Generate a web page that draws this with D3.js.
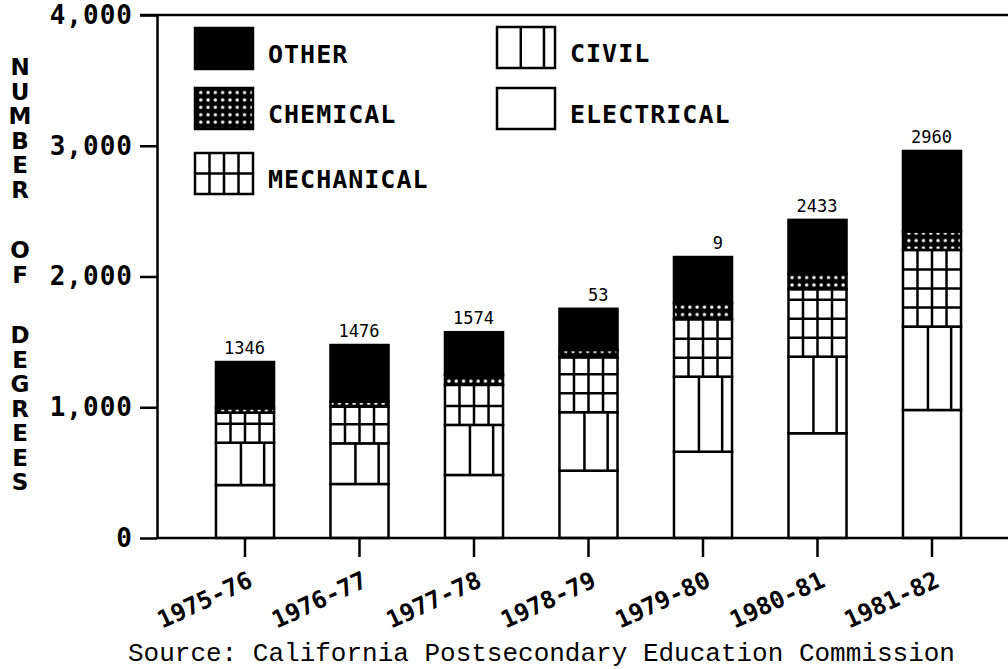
<!DOCTYPE html>
<meta charset="utf-8">
<script src="https://d3js.org/d3.v7.min.js"></script>
<style>
  body { margin: 0; background: #fff; }
</style>
<svg id="chart" width="1008" height="669"></svg>
<script>

  // data
  var years = ["1975-76", "1976-77", "1977-78", "1978-79", "1979-80", "1980-81", "1981-82"]
  var electrical = [405, 413, 482, 515, 660, 801, 979]
  var civil      = [324, 311, 383, 447, 574, 586, 638]
  var mechanical = [230, 281, 306, 420, 439, 516, 586]
  var chemical   = [34, 38, 76, 56, 123, 117, 141]
  var other      = [353, 433, 327, 315, 353, 413, 616]
  // labels over the bars, as far as they are readable in the print
  var barLabels  = ["1346", "1476", "1574", "53", "9", "2433", "2960"]
  var yTicks = [0, 1000, 2000, 3000, 4000]
  var keys = ["electrical", "civil", "mechanical", "chemical", "other"]

  var svg = d3.select("#chart")
  var mono = "'DejaVu Sans Mono', monospace"

  var table = years.map(function(yr, i) {
    return {year: yr, electrical: electrical[i], civil: civil[i],
            mechanical: mechanical[i], chemical: chemical[i], other: other[i]}
  })
  var series = d3.stack().keys(keys)(table)

  var y = d3.scaleLinear().domain([0, 4000]).range([538, 15])
  var x = d3.scaleBand().domain(years).range([187.75, 989.25])
      .paddingInner(0.493).paddingOuter(0.2465)

  // dotted fill for chemical
  var pat = svg.append("defs").append("pattern")
      .attr("id", "dots").attr("patternUnits", "userSpaceOnUse")
      .attr("width", 7.3).attr("height", 7.4)
  pat.append("rect").attr("width", 7.3).attr("height", 7.4).attr("fill", "#000")
  pat.append("circle").attr("cx", 3.65).attr("cy", 3.7).attr("r", 1.7).attr("fill", "#fff")

  var fills = {electrical: "#fff", civil: "#fff", mechanical: "#fff", chemical: "url(#dots)", other: "#000"}

  // stacked bars
  var layers = svg.append("g").selectAll("g")
    .data(series)
    .enter().append("g")
      .attr("class", function(d) { return d.key })

  layers.selectAll("rect")
    .data(function(d) { return d })
    .enter().append("rect")
      .attr("x", function(d) { return x(d.data.year) })
      .attr("y", function(d) { return y(d[1]) })
      .attr("width", x.bandwidth())
      .attr("height", function(d) { return y(d[0]) - y(d[1]) })
      .attr("fill", function(d) { return fills[this.parentNode.__data__.key] })
      .attr("stroke", "#000")
      .attr("stroke-width", 2.5)

  // civil: two vertical strokes
  var civilLayer = series[1]
  var lines = svg.append("g").attr("stroke", "#000").attr("stroke-width", 2.5)
  civilLayer.forEach(function(d) {
    var x0 = x(d.data.year), w = x.bandwidth()
    ;[0.43, 0.83].forEach(function(f) {
      lines.append("line")
        .attr("x1", x0 + w * f).attr("x2", x0 + w * f)
        .attr("y1", y(d[0])).attr("y2", y(d[1]))
    })
  })

  // mechanical: grid of 4 columns, rows of ~19px from the bottom
  var mechLayer = series[2]
  mechLayer.forEach(function(d) {
    var x0 = x(d.data.year), w = x.bandwidth()
    var yb = y(d[0]), yt = y(d[1])
    for (var k = 1; k < 4; k++) {
      lines.append("line")
        .attr("x1", x0 + w * k / 4).attr("x2", x0 + w * k / 4)
        .attr("y1", yb).attr("y2", yt)
    }
    for (var r = yb - 19; r > yt + 3; r -= 19) {
      lines.append("line")
        .attr("x1", x0).attr("x2", x0 + w)
        .attr("y1", r).attr("y2", r)
    }
  })

  // totals over the bars (right aligned as 4-digit numbers)
  svg.append("g").selectAll("text")
    .data(series[4])
    .enter().append("text")
      .attr("x", function(d) { return x(d.data.year) + x.bandwidth() / 2 + 20 })
      .attr("y", function(d) { return y(d[1]) - 8 })
      .attr("text-anchor", "end")
      .style("font-family", mono)
      .style("font-size", "17px")
      .text(function(d, i) { return barLabels[i] })

  // y axis
  var yAxis = svg.append("g")
      .attr("transform", "translate(157,0)")
      .call(d3.axisLeft(y).tickValues(yTicks).tickSize(17).tickSizeOuter(0)
        .tickFormat(d3.format(",")))
  yAxis.select(".domain").attr("stroke-width", 2.5)
  yAxis.selectAll(".tick line").attr("stroke-width", 2.5)
  yAxis.selectAll(".tick text")
      .attr("x", -24)
      .style("font-family", mono)
      .style("font-weight", "bold")
      .style("font-size", "26px")
      .style("letter-spacing", "1px")

  // top frame line
  svg.append("line")
      .attr("x1", 140).attr("x2", 1008).attr("y1", y(4000)).attr("y2", y(4000))
      .attr("stroke", "#000").attr("stroke-width", 2.5)

  // x axis
  var xAxis = svg.append("g")
      .attr("transform", "translate(0,538)")
      .call(d3.axisBottom(x).tickSize(19).tickSizeOuter(0))
  xAxis.select(".domain").remove()
  xAxis.selectAll(".tick line").attr("stroke-width", 2.5)
  xAxis.selectAll(".tick text")
      .attr("text-anchor", "end")
      .attr("transform", "translate(9,48) rotate(-25)")
      .attr("y", 0).attr("dy", 0)
      .style("font-family", mono)
      .style("font-weight", "bold")
      .style("font-size", "24px")
  svg.append("line")
      .attr("x1", 157).attr("x2", 1008).attr("y1", 538).attr("y2", 538)
      .attr("stroke", "#000").attr("stroke-width", 2.5)

  // y title, one letter per line
  var title = "NUMBER OF DEGREES"
  var ty = 67
  var tg = svg.append("g")
  title.split("").forEach(function(c) {
    if (c == " ") { ty += 36; return }
    tg.append("text")
      .attr("x", 20).attr("y", ty + 8)
      .attr("text-anchor", "middle")
      .style("font-family", "'DejaVu Sans', sans-serif")
      .style("font-weight", "bold")
      .style("font-size", "23px")
      .text(c)
    ty += 24.5
  })

  // legend
  var legend = [
    {key: "other", label: "OTHER", x: 195, y: 28},
    {key: "chemical", label: "CHEMICAL", x: 195, y: 88},
    {key: "mechanical", label: "MECHANICAL", x: 195, y: 153},
    {key: "civil", label: "CIVIL", x: 497, y: 27},
    {key: "electrical", label: "ELECTRICAL", x: 497, y: 88}
  ]
  var sw = 58, sh = 41
  var lg = svg.append("g")
  legend.forEach(function(l) {
    lg.append("rect")
      .attr("x", l.x).attr("y", l.y).attr("width", sw).attr("height", sh)
      .attr("fill", fills[l.key]).attr("stroke", "#000").attr("stroke-width", 2.5)
    if (l.key == "civil") {
      [0.41, 0.81].forEach(function(f) {
        lg.append("line").attr("x1", l.x + sw * f).attr("x2", l.x + sw * f)
          .attr("y1", l.y).attr("y2", l.y + sh).attr("stroke", "#000").attr("stroke-width", 2.5)
      })
    }
    if (l.key == "mechanical") {
      for (var k = 1; k < 4; k++) {
        lg.append("line").attr("x1", l.x + sw * k / 4).attr("x2", l.x + sw * k / 4)
          .attr("y1", l.y).attr("y2", l.y + sh).attr("stroke", "#000").attr("stroke-width", 2.5)
      }
      lg.append("line").attr("x1", l.x).attr("x2", l.x + sw)
        .attr("y1", l.y + sh / 2).attr("y2", l.y + sh / 2).attr("stroke", "#000").attr("stroke-width", 2.5)
    }
    lg.append("text")
      .attr("x", l.x + 73).attr("y", l.y + 35)
      .style("font-family", mono)
      .style("font-weight", "bold")
      .style("font-size", "25px")
      .style("letter-spacing", "1px")
      .text(l.label)
  })

  // source line
  svg.append("text")
      .attr("x", 128).attr("y", 661)
      .style("font-family", "'Liberation Mono', monospace")
      .style("font-size", "26px")
      .text("Source: California Postsecondary Education Commission")

</script>
